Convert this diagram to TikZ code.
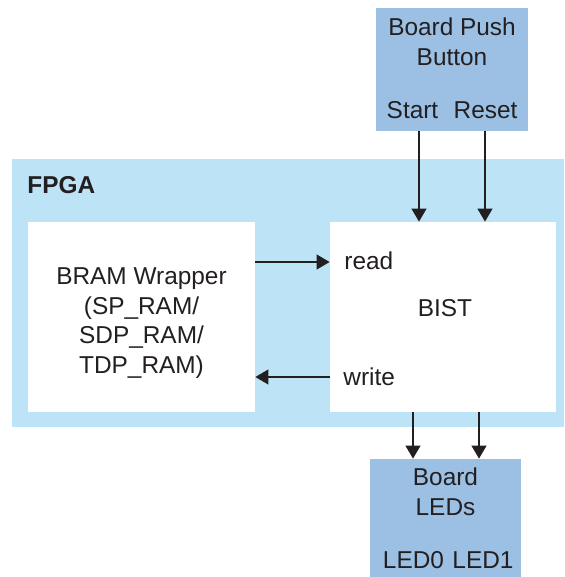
\documentclass[tikz,border=0pt]{standalone}
\usepackage{fontspec}
\setmainfont{Liberation Sans}
\usetikzlibrary{arrows.meta}

\definecolor{fpgablue}{RGB}{189,227,247}
\definecolor{boardblue}{RGB}{155,192,228}
\definecolor{inkgray}{RGB}{35,31,32}

\tikzset{
  box/.style={rectangle, inner sep=0pt, draw=none},
  sig/.style={-{Triangle[width=7.5pt,length=6.5pt]}, line width=0.6pt, draw=inkgray},
  lbl/.style={inner sep=0pt, text=inkgray, align=center}
}

\begin{document}
\begin{tikzpicture}[x=0.5pt, y=-0.5pt, font=\fontsize{12.2}{14.75}\selectfont]
\useasboundingbox (0,0) rectangle (564,577);

% FPGA
\node[box, fill=fpgablue, minimum width=276pt, minimum height=134pt] (fpga) at (288,293) {};
\node[lbl, anchor=west, font=\fontsize{12.2}{14.75}\selectfont\bfseries] (fpgalbl) at (27,185) {FPGA};

% BRAM wrapper and BIST
\node[box, fill=white, minimum width=113.5pt, minimum height=95pt] (bram) at (141.5,317) {};
\node[lbl] (bramlbl) at (141.5,323) {BRAM Wrapper\\(SP\_RAM/\\SDP\_RAM/\\TDP\_RAM)};

\node[box, fill=white, minimum width=113pt, minimum height=95pt] (bist) at (443,317) {};
\node[lbl] (bistlbl) at (445,308) {BIST};
\node[lbl, anchor=west] (readlbl) at (344,261) {read};
\node[lbl, anchor=west] (writelbl) at (343,377) {write};

% Board push button
\node[box, fill=boardblue, minimum width=76pt, minimum height=61.5pt] (btn) at (452,69.5) {};
\node[lbl] (btnlbl) at (452,42) {Board Push\\Button};
\node[lbl] (startlbl) at (412.5,110) {Start};
\node[lbl] (resetlbl) at (485.5,110) {Reset};

% Board LEDs
\node[box, fill=boardblue, minimum width=75.5pt, minimum height=59pt] (leds) at (445.5,518) {};
\node[lbl] (ledslbl) at (445.5,492) {Board\\LEDs};
\node[lbl] (led0lbl) at (413.5,560) {LED0};
\node[lbl] (led1lbl) at (483,560) {LED1};

% Arrows
\draw[sig] ([xshift=-16.5pt]btn.south) -- ([xshift=-16.5pt]btn.south |- bist.north);
\draw[sig] ([xshift=16.5pt]btn.south) -- ([xshift=16.5pt]btn.south |- bist.north);

\draw[sig] ([yshift=27.5pt]bram.east) -- ([yshift=27.5pt]bram.east -| bist.west);
\draw[sig] ([yshift=-30pt]bist.west) -- ([yshift=-30pt]bist.west -| bram.east);

\draw[sig] ([xshift=-15pt]bist.south) -- ([xshift=-15pt]bist.south |- leds.north);
\draw[sig] ([xshift=18pt]bist.south) -- ([xshift=18pt]bist.south |- leds.north);
\end{tikzpicture}
\end{document}
